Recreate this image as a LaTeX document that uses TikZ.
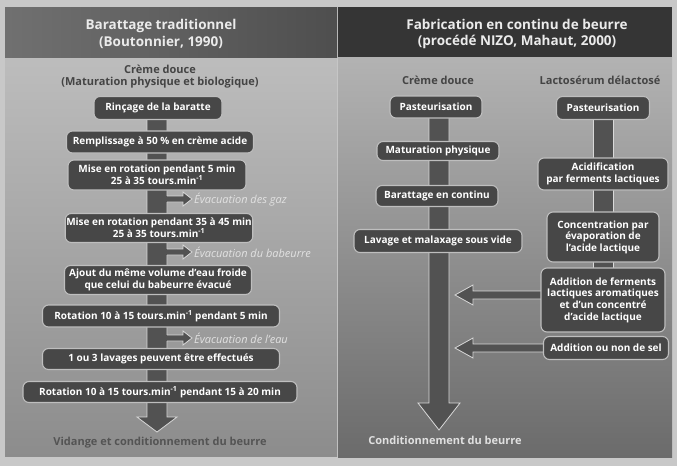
\documentclass[tikz,border=0pt]{standalone}
\usepackage{fontspec}
\setmainfont{Open Sans}
\usetikzlibrary{calc}
\definecolor{pagebg}{HTML}{C8C8C8}
\definecolor{boxfill}{HTML}{474747}
\definecolor{boxedge}{HTML}{BEBEBE}
\definecolor{stemfill}{HTML}{525252}
\definecolor{hdrL}{HTML}{575757}
\definecolor{hdrR}{HTML}{353535}
\definecolor{lbltext}{HTML}{444444}
\definecolor{evactext}{HTML}{E2E2E2}
\begin{document}
\begin{tikzpicture}[x=1pt,y=-1pt,
  box/.style={draw=boxedge, line width=1.1pt, fill=boxfill, rounded corners=6pt,
    text=white, font=\bfseries\fontsize{10}{11.6}\selectfont, align=center, inner sep=1pt},
  hdr/.style={text=white!92!black, font=\bfseries\fontsize{13.5}{16.5}\selectfont, align=center},
  lbl/.style={text=lbltext, font=\bfseries\fontsize{11}{12}\selectfont, align=center},
  evac/.style={text=evactext, font=\itshape\fontsize{11}{12}\selectfont, anchor=west, inner sep=1pt},
  stem/.style={fill=stemfill, draw=white!85!black, line width=0.8pt},
  stemfillonly/.style={fill=stemfill},
  stemline/.style={draw=white!85!black, line width=0.8pt}
]
\useasboundingbox (0,0) rectangle (677,466);
\fill[pagebg] (0,0) rectangle (677,466);
% panels
\shade[top color=white!74!black, bottom color=white!55!black] (5,57) rectangle (337,456);
\shade[top color=white!70!black, bottom color=white!42!black] (338,57) rectangle (672,457);
\shade[left color=hdrL!85!white, right color=hdrL!90!black] (5,7) rectangle (337,57);
\fill[hdrR] (338,7) rectangle (672,57);

% headers
\node[hdr] (hl) at (161,34) {Barattage traditionnel\\(Boutonnier, 1990)};
\node[hdr] (hr) at (517,34) {Fabrication en continu de beurre\\(procédé NIZO, Mahaut, 2000)};

% column labels
\node[lbl] (lcd) at (160,77) {Crème douce\\(Maturation physique et biologique)};
\node[lbl] (rcd) at (438,80) {Crème douce};
\node[lbl] (rls) at (600,80) {Lactosérum délactosé};

% coordinates for arrow tips
\coordinate (lend) at (157,432);
\coordinate (rend) at (439,430);
\coordinate (g1) at (167,199);
\coordinate (g2) at (167,252);
\coordinate (g3) at (167,338);

% evacuation arrows (left)
\foreach \c in {g1,g2,g3}{
  \fill[stemfillonly] ($(\c)+(-2,-3)$) -- ($(\c)+(16,-3)$) -- ($(\c)+(16,-7)$) -- ($(\c)+(25,0)$) -- ($(\c)+(16,7)$) -- ($(\c)+(16,3)$) -- ($(\c)+(-2,3)$) -- cycle;
}
% left main stem
\draw[stem] (147,108) -- ($(lend)+(-10,-15)$) -- ($(lend)+(-20,-15)$) -- (lend) -- ($(lend)+(20,-15)$) -- ($(lend)+(10,-15)$) -- (167,108) -- cycle;
\foreach \c in {g1,g2,g3}{
  \fill[stemfillonly] ($(\c)+(-2,-2.6)$) rectangle ($(\c)+(1,2.6)$);
  \draw[stemline] ($(\c)+(0,-3)$) -- ($(\c)+(16,-3)$) -- ($(\c)+(16,-7)$) -- ($(\c)+(25,0)$) -- ($(\c)+(16,7)$) -- ($(\c)+(16,3)$) -- ($(\c)+(0,3)$);
}
\node[evac] (e1) at ($(g1)+(26,1)$) {Évacuation des gaz};
\node[evac] (e2) at ($(g2)+(26,0)$) {Évacuation du babeurre};
\node[evac] (e3) at ($(g3)+(26,0)$) {Évacuation de l'eau};

% left boxes
\node[box, minimum width=128pt, minimum height=23pt] (rinc) at (158,108) {Rinçage de la baratte};
\node[box, minimum width=187pt, minimum height=22pt] (rempl) at (160,142) {Remplissage à 50 \% en crème acide};
\node[box, minimum width=178pt, minimum height=30pt] (mise1) at (157,175) {Mise en rotation pendant 5 min\\25 à 35 tours.min\textsuperscript{-1}};
\node[box, minimum width=187pt, minimum height=29pt] (mise2) at (159,228) {Mise en rotation pendant 35 à 45 min\\25 à 35 tours.min\textsuperscript{-1}};
\node[box, minimum width=187pt, minimum height=29pt] (ajout) at (158,280) {Ajout du même volume d'eau froide\\que celui du babeurre évacué};
\node[box, minimum width=237pt, minimum height=22pt] (rot1) at (161,316) {Rotation 10 à 15 tours.min\textsuperscript{-1} pendant 5 min};
\node[box, minimum width=237pt, minimum height=21pt] (lav) at (161,359) {1 ou 3 lavages peuvent être effectués};
\node[box, minimum width=274pt, minimum height=21pt] (rot2) at (160,392) {Rotation 10 à 15 tours.min\textsuperscript{-1} pendant 15 à 20 min};
\node[lbl, text=white!33!black] (vid) at (160,443) {Vidange et conditionnement du beurre};

% right panel: side arrows into left stem
\coordinate (t1) at (455,295);
\coordinate (t2) at (455,348);
\foreach \c in {t1,t2}{
  \draw[stem] (\c) -- ($(\c)+(18,-10)$) -- ($(\c)+(18,-4)$) -- ($(\c)+(100,-4)$) -- ($(\c)+(100,4)$) -- ($(\c)+(18,4)$) -- ($(\c)+(18,10)$) -- cycle;
}
% right panel left stem
\draw[stem] (429,107) -- ($(rend)+(-10,-27)$) -- ($(rend)+(-21,-27)$) -- (rend) -- ($(rend)+(21,-27)$) -- ($(rend)+(10,-27)$) -- (449,107) -- cycle;
% right panel right stem
\draw[stem] (593,108) rectangle (613,290);

% right boxes
\node[box, minimum width=92pt, minimum height=22pt] (rp1) at (436,107) {Pasteurisation};
\node[box, minimum width=122pt, minimum height=19pt] (matur) at (438,151) {Maturation physique};
\node[box, minimum width=122pt, minimum height=21pt] (barat) at (437,196) {Barattage en continu};
\node[box, minimum width=168pt, minimum height=23pt] (lavage) at (438,241) {Lavage et malaxage sous vide};
\node[box, minimum width=93pt, minimum height=23pt] (rp2) at (603,108) {Pasteurisation};
\node[box, minimum width=130pt, minimum height=32pt] (acid) at (603,174) {Acidification\\par ferments lactiques};
\node[box, minimum width=112pt, minimum height=50pt] (conc) at (603,237) {Concentration par\\évaporation de\\l'acide lactique};
\node[box, minimum width=124pt, minimum height=64pt] (addf) at (603,300) {Addition de ferments\\lactiques aromatiques\\et d'un concentré\\d'acide lactique};
\node[box, minimum width=125pt, minimum height=23pt] (sel) at (606,348) {Addition ou non de sel};
\node[lbl, text=white!88!black] (cond) at (445,440) {Conditionnement du beurre};
\end{tikzpicture}
\end{document}
